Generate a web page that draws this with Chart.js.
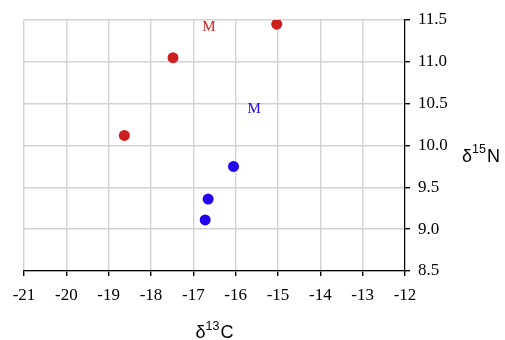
<!DOCTYPE html>
<html>
<head>
<meta charset="utf-8">
<script src="https://cdn.jsdelivr.net/npm/chart.js@4/dist/chart.umd.min.js"></script>
<style>
  html, body { margin: 0; padding: 0; background: #fff; }
  #wrap { width: 505px; height: 340px; }
</style>
</head>
<body>
<div id="wrap"><canvas id="myChart"></canvas></div>
<script>
/* точки: x = δ13C, y = δ15N */
const redX = [-18.63, -17.48, -15.03];
const redY = [10.12, 11.05, 11.45];
const blueX = [-16.05, -16.65, -16.72];
const blueY = [9.75, 9.36, 9.11];

/* подписи "M" рядом с группами */
const noteText = ['M', 'M'];
const noteX = [-16.63, -15.56];
const noteY = [11.42, 10.44];

const xTicks = [-21, -20, -19, -18, -17, -16, -15, -14, -13, -12];
const yTicks = [8.5, 9.0, 9.5, 10.0, 10.5, 11.0, 11.5];

const RED = '#cc1f1f';
const BLUE = '#2200ee';
const noteColors = [RED, BLUE];

function toPoints(xs, ys) {
      return xs.map((x, i) => ({ x: x, y: ys[i] }));
}

/* рисует подписи M и заголовки осей с верхним индексом */
const extras = {
      id: 'extras',
      afterDatasetsDraw(chart) {
            const ctx = chart.ctx;
            const xs = chart.scales.x, ys = chart.scales.y;
            ctx.save();
            ctx.font = '15px "Liberation Serif", "Times New Roman", serif';
            ctx.textAlign = 'center';
            ctx.textBaseline = 'middle';
            noteText.forEach((t, i) => {
                  ctx.fillStyle = noteColors[i];
                  ctx.fillText(t, xs.getPixelForValue(noteX[i]), ys.getPixelForValue(noteY[i]));
            });
            ctx.restore();

            const area = chart.chartArea;
            drawTitle(ctx, '\u03b4', '13', 'C', (area.left + area.right) / 2, 338, 'center');
            drawTitle(ctx, '\u03b4', '15', 'N', 462, 161.5, 'left');
      }
};

function drawTitle(ctx, a, sup, b, x, base, align) {
      const big = '18px "Liberation Sans", Arial, sans-serif';
      const small = '12.5px "Liberation Sans", Arial, sans-serif';
      ctx.save();
      ctx.fillStyle = '#000';
      ctx.textBaseline = 'alphabetic';
      ctx.textAlign = 'left';
      ctx.font = big;
      const wa = ctx.measureText(a).width, wb = ctx.measureText(b).width;
      ctx.font = small;
      const ws = ctx.measureText(sup).width;
      const total = wa + ws + wb + 1;
      let x0 = align === 'center' ? x - total / 2 : x;
      ctx.font = big;
      ctx.fillText(a, x0, base);
      ctx.font = small;
      ctx.fillText(sup, x0 + wa, base - 8.5);
      ctx.font = big;
      ctx.fillText(b, x0 + wa + ws + 1, base);
      ctx.restore();
}

const canvaNode = document.getElementById('myChart');

const chart = new Chart(canvaNode, {
      type: 'scatter',
      data: {
            datasets: [{
                  data: toPoints(redX, redY),
                  backgroundColor: RED,
                  borderColor: RED,
                  pointRadius: 5.5,
                  borderWidth: 0
            }, {
                  data: toPoints(blueX, blueY),
                  backgroundColor: BLUE,
                  borderColor: BLUE,
                  pointRadius: 5.5,
                  borderWidth: 0
            }]
      },
      options: {
            responsive: true,
            maintainAspectRatio: false,
            animation: false,
            layout: { padding: { left: 24, top: 20, right: 0, bottom: 0 } },
            plugins: {
                  legend: { display: false },
                  tooltip: { enabled: false }
            },
            scales: {
                  x: {
                        type: 'linear',
                        min: -21,
                        max: -12,
                        afterBuildTicks: (s) => { s.ticks = xTicks.map(v => ({ value: v })); },
                        afterFit: (s) => { s.height = 69; },
                        border: { color: '#000', width: 1.2 },
                        grid: { color: '#d2d2d2', lineWidth: 1.4, tickColor: '#000', tickLength: 5 },
                        ticks: {
                              color: '#000',
                              padding: 9,
                              maxRotation: 0,
                              font: { family: '"Liberation Serif", "Times New Roman", serif', size: 17 },
                              callback: (v) => String(v)
                        }
                  },
                  y: {
                        type: 'linear',
                        position: 'right',
                        min: 8.5,
                        max: 11.5,
                        afterBuildTicks: (s) => { s.ticks = yTicks.map(v => ({ value: v })); },
                        afterFit: (s) => { s.width = 100; },
                        border: { color: '#000', width: 1.2 },
                        grid: { color: '#d2d2d2', lineWidth: 1.4, tickColor: '#000', tickLength: 5 },
                        ticks: {
                              color: '#000',
                              padding: 8,
                              font: { family: '"Liberation Serif", "Times New Roman", serif', size: 17 },
                              callback: (v) => Number(v).toFixed(1)
                        }
                  }
            }
      },
      plugins: [extras]
});
</script>
</body>
</html>
